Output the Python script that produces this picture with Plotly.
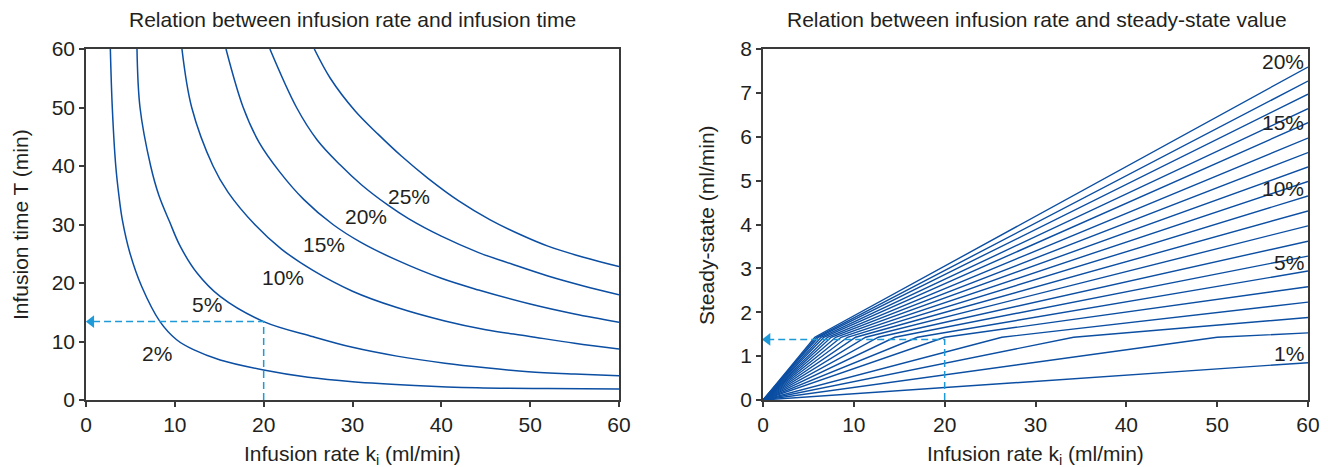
import plotly.graph_objects as go

# ---------- Left panel data: infusion time T (min) vs infusion rate k (ml/min) ----------
pct_left = ["2%", "5%", "10%", "15%", "20%", "25%"]
k_2 = [2.74, 2.96, 3.35, 3.7, 4.09, 4.95, 6.27, 8.33, 10.2, 12.1, 15.1, 20, 25, 30, 37, 44, 52, 60]
T_2 = [60, 50, 40, 35, 30.8, 25.1, 19.4, 13.4, 10.3, 8.6, 6.85, 5.14, 3.9, 3.14, 2.5, 2.1, 1.95, 1.88]
k_5 = [5.74, 6.08, 7.28, 8.2, 9.4, 10.6, 12.5, 15.1, 20, 25.6, 30, 35, 40.4, 45, 49.8, 55, 60]
T_5 = [60, 50, 40, 35, 30.5, 26.3, 21.7, 17.7, 13.4, 10.8, 9.0, 7.5, 6.28, 5.5, 4.85, 4.45, 4.16]
k_10 = [10.8, 11.9, 14.3, 16, 19.0, 22, 25.5, 30, 35, 40.4, 45, 49.8, 55, 60]
T_10 = [60, 50, 40, 35.5, 30, 25.8, 22.2, 18.6, 15.8, 13.5, 12.0, 10.9, 9.7, 8.7]
k_15 = [15.76, 17.7, 19.5, 21.8, 24.5, 27.8, 31, 35, 40, 44.2, 50, 55, 60]
T_15 = [60, 50, 44, 39, 34.3, 30, 26.9, 23.9, 20.8, 18.8, 16.4, 14.7, 13.3]
k_20 = [20.7, 23.7, 26, 28.6, 31, 34, 36.3, 40, 44.2, 48, 52, 56, 60]
T_20 = [60, 50, 44.5, 40.2, 36.8, 33.3, 31, 28, 25.2, 23.2, 21.2, 19.5, 18.0]
k_25 = [25.7, 27.5, 30.3, 32.9, 35.5, 38.5, 42, 45.5, 49, 52, 56, 60]
T_25 = [60, 55, 49.4, 45.4, 41.7, 37.9, 34, 30.8, 28.2, 26.3, 24.4, 22.8]
left_k = [k_2, k_5, k_10, k_15, k_20, k_25]
left_T = [T_2, T_5, T_10, T_15, T_20, T_25]
left_label_k = [8.0, 13.6, 22.2, 26.8, 31.5, 36.4]
left_label_T = [7.9, 16.3, 20.9, 26.5, 31.3, 34.8]
left_guide_k = [20, 20, 0.6]
left_guide_T = [0, 13.4, 13.4]

# ---------- Right panel data: steady-state value vs infusion rate (1%..20%) ----------
pct_right = list(range(1, 21))
kink_k = [None, 50, 34.2, 26.3, 20, 17, 14.5, 12.7, 11.3, 10.2,
          9.3, 8.6, 8.0, 7.5, 7.1, 6.7, 6.4, 6.1, 5.9, 5.7]
kink_y = [None] + [1.43] * 19
end_y = [0.85, 1.53, 1.88, 2.23, 2.58, 2.94, 3.28, 3.62, 3.97, 4.31,
         4.65, 4.98, 5.31, 5.64, 5.97, 6.32, 6.64, 6.97, 7.27, 7.59]
right_labels = ["20%", "15%", "10%", "5%", "1%"]
right_label_y = [7.72, 6.33, 4.83, 3.14, 1.07]
right_guide_k = [20, 20, 0.5]
right_guide_y = [0, 1.38, 1.38]

# ---------- styling ----------
BLUE = "#0b4ea2"
GUIDE = "#1e9ad8"
INK = "#231f20"
FONT = "Liberation Sans, Arial, sans-serif"
FS = 21
OFF = 8  # page body margin in the browser
W, H = 1328 - OFF, 467 - OFF
ML, MR, MT, MB = 86 - OFF, 20, 49 - OFF, 67
IW, IH = W - ML - MR, H - MT - MB

def px_x(p):
    # p: target pixel x in the final screenshot
    return (p - OFF - ML) / IW

def px_y(p):
    return (H - MB - (p - OFF)) / IH

fig = go.Figure()

for k, T in zip(left_k, left_T):
    fig.add_trace(go.Scatter(x=k, y=T, mode="lines", line=dict(color=BLUE, width=1.5, shape="spline", smoothing=1.0),
                             xaxis="x", yaxis="y", showlegend=False, hoverinfo="skip"))

fig.add_trace(go.Scatter(x=left_guide_k, y=left_guide_T, mode="lines",
                         line=dict(color=GUIDE, width=1.5, dash="7px,4px"), xaxis="x", yaxis="y",
                         showlegend=False, hoverinfo="skip"))
fig.add_trace(go.Scatter(x=[left_guide_k[-1]], y=[left_guide_T[-1]], mode="markers",
                         marker=dict(symbol="triangle-left", size=11, color=GUIDE), xaxis="x", yaxis="y",
                         showlegend=False, hoverinfo="skip"))

for i in range(len(pct_right)):
    if kink_k[i] is None:
        xs, ys = [0, 60], [0, end_y[i]]
    else:
        xs, ys = [0, kink_k[i], 60], [0, kink_y[i], end_y[i]]
    fig.add_trace(go.Scatter(x=xs, y=ys, mode="lines", line=dict(color=BLUE, width=1.4),
                             xaxis="x2", yaxis="y2", showlegend=False, hoverinfo="skip"))

fig.add_trace(go.Scatter(x=right_guide_k, y=right_guide_y, mode="lines",
                         line=dict(color=GUIDE, width=1.5, dash="7px,4px"), xaxis="x2", yaxis="y2",
                         showlegend=False, hoverinfo="skip"))
fig.add_trace(go.Scatter(x=[right_guide_k[-1]], y=[right_guide_y[-1]], mode="markers",
                         marker=dict(symbol="triangle-left", size=11, color=GUIDE), xaxis="x2", yaxis="y2",
                         showlegend=False, hoverinfo="skip"))

axis_common = dict(showgrid=False, zeroline=False, showline=True, linecolor="#3a3a3a", linewidth=1.5,
                   mirror=True, ticks="outside", ticklen=5, tickwidth=1.5, tickcolor="#3a3a3a",
                   automargin=False, tickfont=dict(family=FONT, size=FS, color=INK))

annotations = []
for txt, kx, ty in zip(pct_left, left_label_k, left_label_T):
    annotations.append(dict(x=kx, y=ty, xref="x", yref="y", text=txt, showarrow=False,
                            font=dict(family=FONT, size=FS, color=INK)))
for txt, ty in zip(right_labels, right_label_y):
    annotations.append(dict(x=59.8, y=ty, xref="x2", yref="y2", text=txt, showarrow=False, xanchor="right",
                            font=dict(family=FONT, size=FS, color=INK)))

titles = [
    (352, 20, "Relation between infusion rate and infusion time", 0),
    (1037, 20, "Relation between infusion rate and steady-state value", 0),
    (352, 455, "Infusion rate k<sub>i</sub> (ml/min)", 0),
    (1035, 455, "Infusion rate k<sub>i</sub> (ml/min)", 0),
    (21, 225, "Infusion time T (min)", -90),
    (707, 225, "Steady-state (ml/min)", -90),
]
for xx, yy, txt, ang in titles:
    annotations.append(dict(x=px_x(xx), y=px_y(yy), xref="paper", yref="paper", text=txt, showarrow=False,
                            textangle=ang, xanchor="center", yanchor="middle",
                            font=dict(family=FONT, size=FS, color=INK)))

fig.update_layout(
    width=W, height=H, margin=dict(l=ML, r=MR, t=MT, b=MB, autoexpand=False),
    paper_bgcolor="white", plot_bgcolor="white",
    xaxis=dict(domain=[px_x(86), px_x(619)], range=[0, 60], dtick=10, anchor="y", **axis_common),
    yaxis=dict(domain=[0, 1], range=[0, 60], dtick=10, anchor="x", **axis_common),
    xaxis2=dict(domain=[px_x(763), px_x(1308)], range=[0, 60], dtick=10, anchor="y2", **axis_common),
    yaxis2=dict(domain=[0, 1], range=[0, 8], dtick=1, anchor="x2", **axis_common),
    annotations=annotations,
)

fig.write_html("out.html")
